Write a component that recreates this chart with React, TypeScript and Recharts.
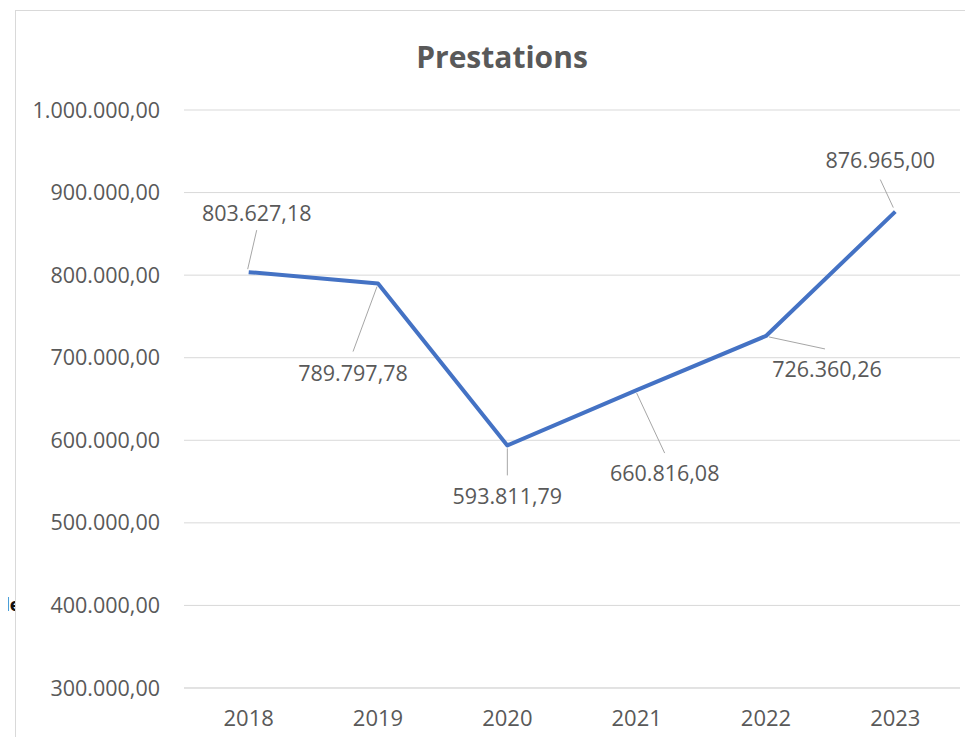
import React from 'react';
import { LineChart, Line, XAxis, YAxis, CartesianGrid, LabelList } from 'recharts';

const years = ['2018', '2019', '2020', '2021', '2022', '2023'];
const prestations = [803627.18, 789797.78, 593811.79, 660816.08, 726360.26, 876965.0];
const yTicks = [300000, 400000, 500000, 600000, 700000, 800000, 900000, 1000000];
const title = 'Prestations';
const sideText = 'le';

const data = years.map((y, i) => ({ year: y, value: prestations[i] }));

const fmt = (v: number) => {
  const fixed = v.toFixed(2);
  const [intPart, dec] = fixed.split('.');
  const withDots = intPart.replace(/\B(?=(\d{3})+(?!\d))/g, '.');
  return `${withDots},${dec}`;
};

const TEXT = '#595959';
const FONT = '"Open Sans", "Noto Sans", sans-serif';
const LABEL_SIZE = 21.5;

// label placement relative to each point: label center, leader line start/end
const labelLayout = [
  { dx: 8, dy: -60, x1: -1, y1: -3, x2: 8, y2: -42 },
  { dx: -25, dy: 89, x1: -1, y1: 3, x2: -25, y2: 68 },
  { dx: 0, dy: 50, x1: 0, y1: 3, x2: 0, y2: 30 },
  { dx: 28, dy: 82, x1: 0, y1: 3, x2: 28, y2: 63 },
  { dx: 61, dy: 33, x1: 3, y1: 1, x2: 59, y2: 13 },
  { dx: -15, dy: -52, x1: -2, y1: -4, x2: -15, y2: -32 },
];

const DataLabel = (props: any) => {
  const { x, y, index, value } = props;
  const l = labelLayout[index];
  if (!l) return null;
  return (
    <g>
      <line x1={x + l.x1} y1={y + l.y1} x2={x + l.x2} y2={y + l.y2} stroke="#a6a6a6" strokeWidth={1} />
      <text
        x={x + l.dx}
        y={y + l.dy}
        textAnchor="middle"
        dominantBaseline="central"
        fill={TEXT}
        fontSize={LABEL_SIZE}
        fontFamily={FONT}
      >
        {fmt(value)}
      </text>
    </g>
  );
};

export default function App() {
  return (
    <div style={{ position: 'relative', width: 973, height: 745, margin: -8, background: '#fff', overflow: 'hidden' }}>
      <div
        style={{
          position: 'absolute',
          left: 4,
          top: 590,
          fontFamily: '"DejaVu Sans", sans-serif',
          fontWeight: 700,
          fontSize: 17,
          color: '#111',
          lineHeight: '30px',
          whiteSpace: 'nowrap',
        }}
      >
        {sideText}
      </div>
      <div style={{ position: 'absolute', left: 16, top: 585, width: 30, height: 40, background: '#fff' }} />
      <div style={{ position: 'absolute', left: 0, top: 0 }}>
        <LineChart width={973} height={745} data={data} margin={{ top: 110, right: 13, bottom: 0, left: 14 }}>
          <CartesianGrid vertical={false} stroke="#d9d9d9" strokeWidth={1} />
          <XAxis
            dataKey="year"
            height={57}
            axisLine={{ stroke: '#d9d9d9' }}
            tickLine={false}
            tickSize={0}
            tickMargin={22}
            padding={{ left: 64.7, right: 64.7 }}
            tick={{ fill: TEXT, fontSize: 22, fontFamily: FONT }}
            interval={0}
          />
          <YAxis
            width={170}
            domain={[300000, 1000000]}
            ticks={yTicks}
            type="number"
            axisLine={false}
            tickLine={false}
            tickSize={0}
            tickMargin={24}
            tickFormatter={fmt}
            tick={{ fill: TEXT, fontSize: LABEL_SIZE, fontFamily: FONT }}
            interval={0}
          />
          <Line
            type="linear"
            dataKey="value"
            stroke="#4472c4"
            strokeWidth={4}
            dot={false}
            activeDot={false}
            isAnimationActive={false}
            strokeLinejoin="round"
          >
            <LabelList dataKey="value" content={<DataLabel />} />
          </Line>
        </LineChart>
      </div>
      <div style={{ position: 'absolute', left: 15, top: 10, width: 958, height: 1, background: '#d9d9d9' }} />
      <div style={{ position: 'absolute', left: 15, top: 10, width: 1, height: 735, background: '#d9d9d9' }} />
      <div
        style={{
          position: 'absolute',
          left: 0,
          width: 1004,
          top: 36,
          textAlign: 'center',
          fontFamily: FONT,
          fontWeight: 700,
          fontSize: 30,
          color: TEXT,
          lineHeight: '42px',
        }}
      >
        {title}
      </div>
    </div>
  );
}
